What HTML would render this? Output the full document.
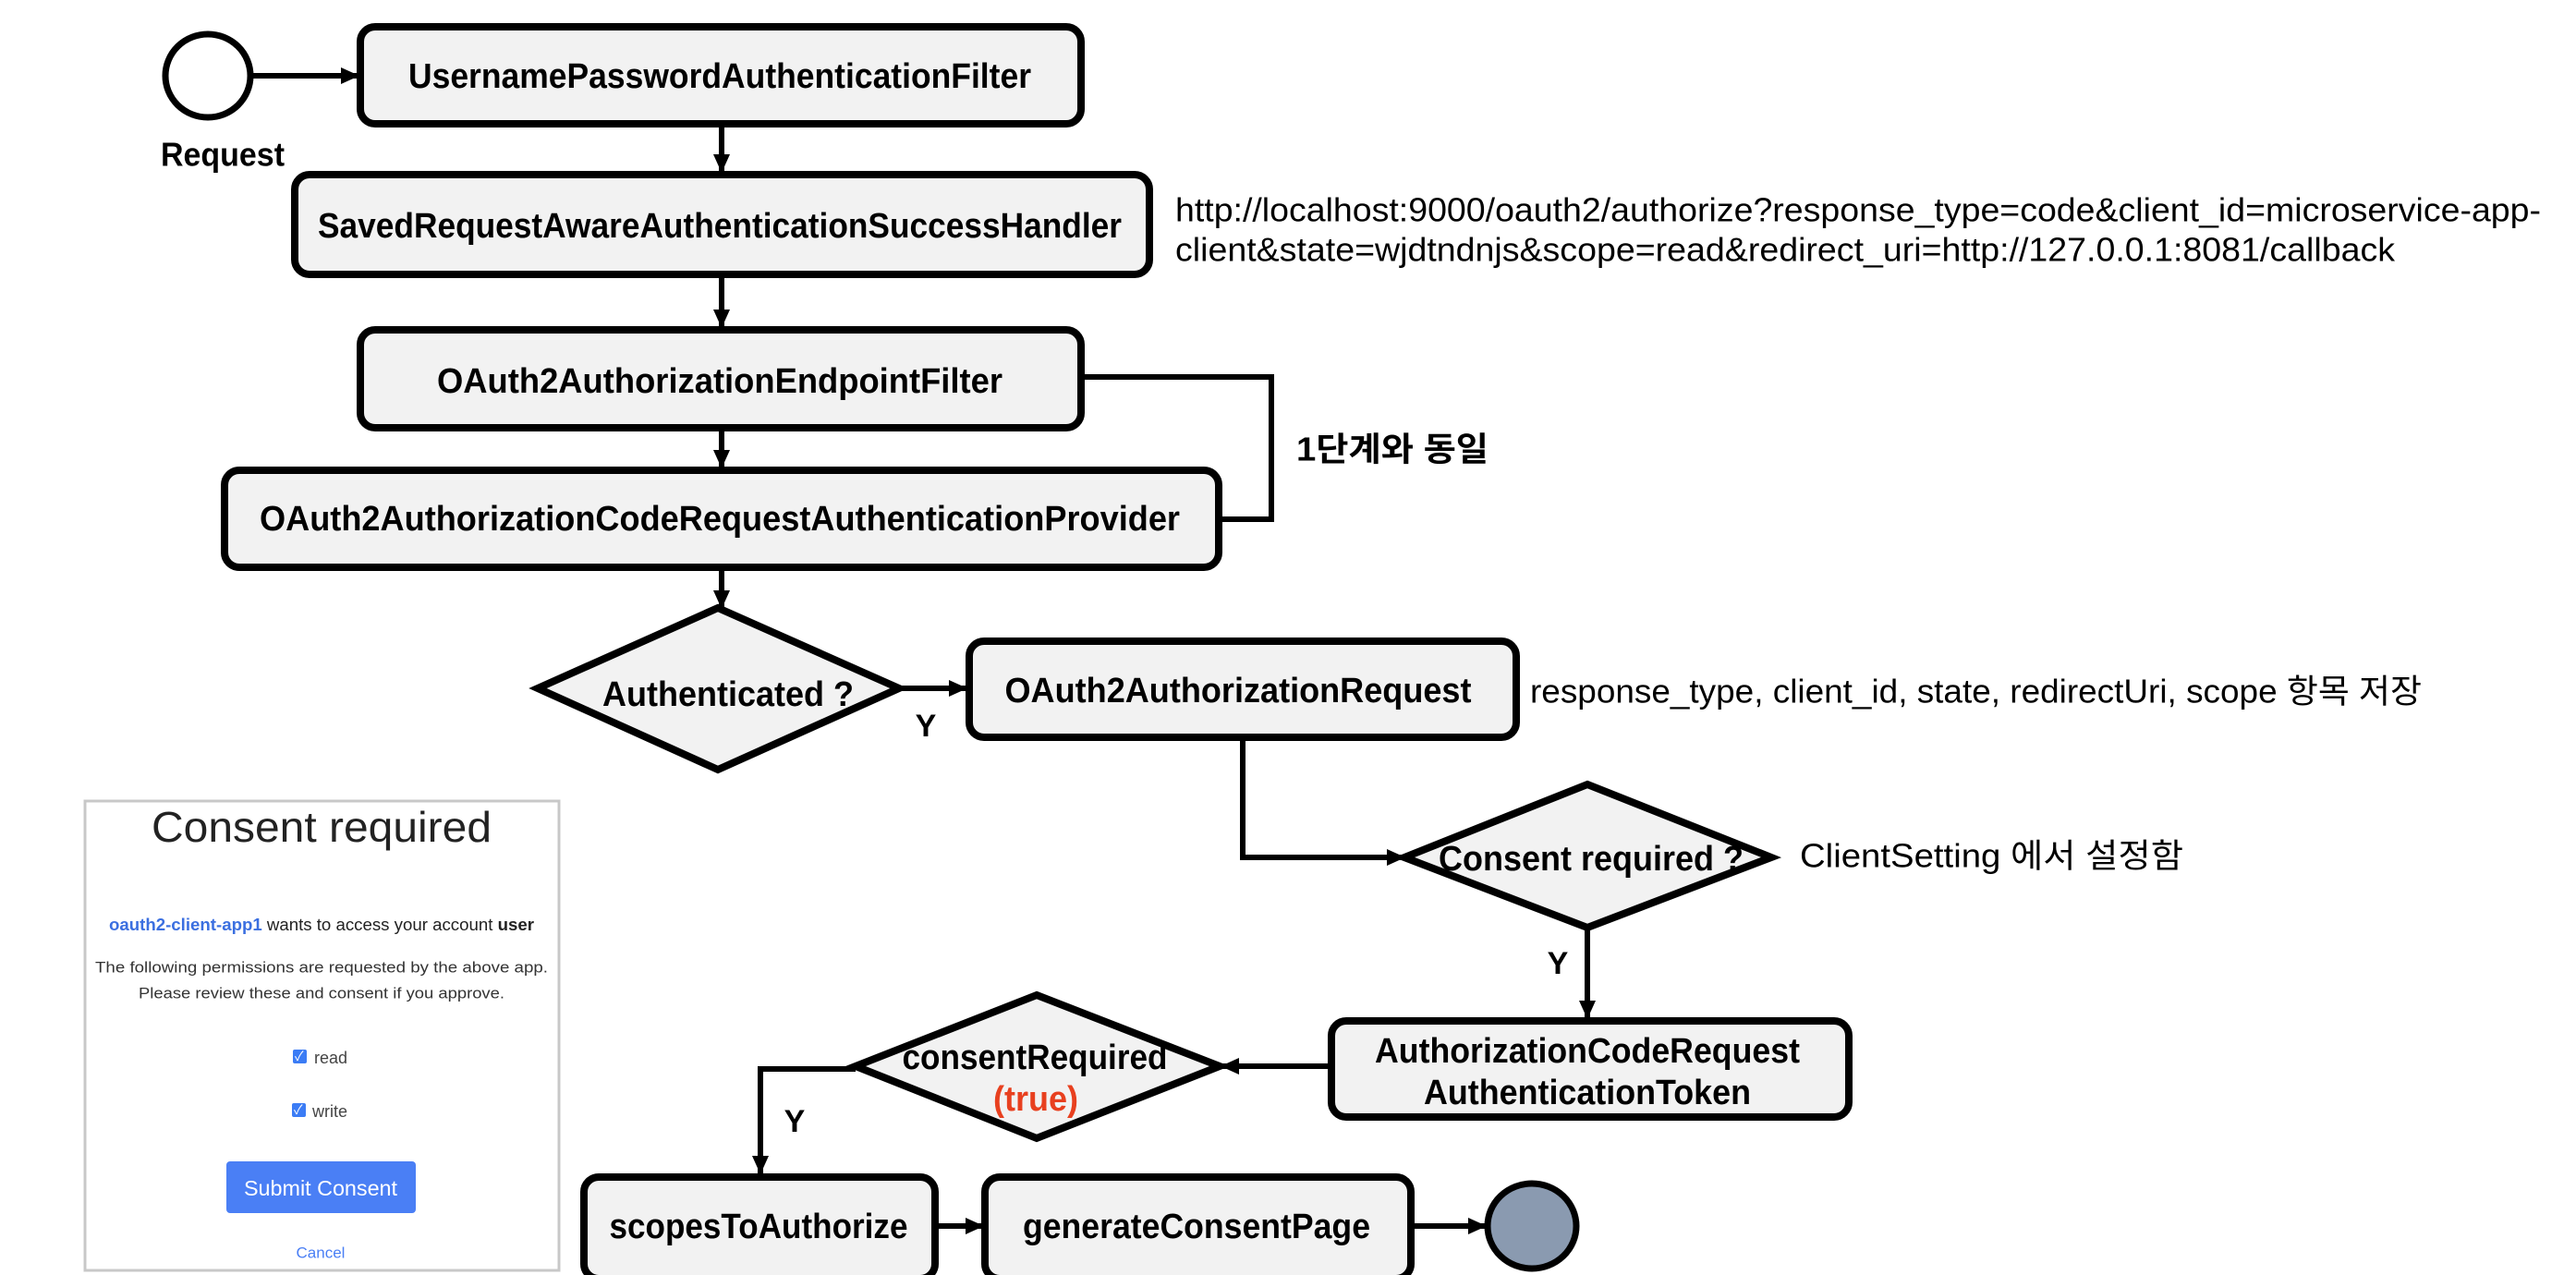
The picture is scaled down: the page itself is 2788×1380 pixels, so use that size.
<!DOCTYPE html>
<html><head><meta charset="utf-8"><style>
html,body{margin:0;padding:0;background:#fff;}
svg{display:block;}
text{font-family:"Liberation Sans","Noto Sans CJK KR",sans-serif;}
.b{font-weight:bold;font-size:38px;fill:#000;}
.n{font-size:36px;fill:#000;}
.box{fill:#f2f2f2;stroke:#000;stroke-width:8;}
.ln{stroke:#000;stroke-width:6;fill:none;}
</style></head><body>
<svg width="2788" height="1380" viewBox="0 0 2788 1380" xmlns="http://www.w3.org/2000/svg">
<defs>
<marker id="a" markerWidth="20" markerHeight="18" refX="19" refY="9" orient="auto" markerUnits="userSpaceOnUse"><path d="M0,0 L20,9 L0,18 z" fill="#000"/></marker>
</defs>
<ellipse cx="225" cy="82" rx="46" ry="45" fill="#fff" stroke="#000" stroke-width="7"/>
<line class="ln" x1="272" y1="82" x2="388" y2="82" marker-end="url(#a)"/>
<text class="b" x="241" y="167" text-anchor="middle" dominant-baseline="central" textLength="134" lengthAdjust="spacingAndGlyphs" style="font-size:36px">Request</text>

<rect class="box" x="390" y="29" width="780" height="105" rx="16"/>
<text class="b" x="779" y="83" text-anchor="middle" dominant-baseline="central" textLength="674" lengthAdjust="spacingAndGlyphs">UsernamePasswordAuthenticationFilter</text>
<line class="ln" x1="781" y1="134" x2="781" y2="186" marker-end="url(#a)"/>
<rect class="box" x="319" y="189" width="925" height="108" rx="16"/>
<text class="b" x="779" y="245" text-anchor="middle" dominant-baseline="central" textLength="870" lengthAdjust="spacingAndGlyphs">SavedRequestAwareAuthenticationSuccessHandler</text>
<line class="ln" x1="781" y1="297" x2="781" y2="354" marker-end="url(#a)"/>
<text class="n" x="1272" y="227" dominant-baseline="central" textLength="1478" lengthAdjust="spacingAndGlyphs">http://localhost:9000/oauth2/authorize?response_type=code&amp;client_id=microservice-app-</text>
<text class="n" x="1272" y="270" dominant-baseline="central" textLength="1320" lengthAdjust="spacingAndGlyphs">client&amp;state=wjdtndnjs&amp;scope=read&amp;redirect_uri=http://127.0.0.1:8081/callback</text>
<rect class="box" x="390" y="357" width="780" height="106" rx="16"/>
<text class="b" x="779" y="413" text-anchor="middle" dominant-baseline="central" textLength="612" lengthAdjust="spacingAndGlyphs">OAuth2AuthorizationEndpointFilter</text>
<line class="ln" x1="781" y1="463" x2="781" y2="506" marker-end="url(#a)"/>
<polyline class="ln" points="1172,408 1376,408 1376,562 1322,562"/>
<text class="b" x="1403" y="486" dominant-baseline="central" textLength="208" lengthAdjust="spacingAndGlyphs" style="font-size:36px">1단계와 동일</text>
<rect class="box" x="243" y="509" width="1076" height="105" rx="16"/>
<text class="b" x="779" y="562" text-anchor="middle" dominant-baseline="central" textLength="996" lengthAdjust="spacingAndGlyphs">OAuth2AuthorizationCodeRequestAuthenticationProvider</text>
<line class="ln" x1="781" y1="614" x2="781" y2="658" marker-end="url(#a)"/>

<polygon class="box" points="777,658 973,745 777,833 582,745"/>
<text class="b" x="788" y="752" text-anchor="middle" dominant-baseline="central" textLength="272" lengthAdjust="spacingAndGlyphs">Authenticated ?</text>
<line class="ln" x1="973" y1="745" x2="1046" y2="745" marker-end="url(#a)"/>
<text class="b" x="1002" y="786" text-anchor="middle" dominant-baseline="central" style="font-size:34px">Y</text>
<rect class="box" x="1049" y="694" width="592" height="104" rx="16"/>
<text class="b" x="1340" y="748" text-anchor="middle" dominant-baseline="central" textLength="505" lengthAdjust="spacingAndGlyphs">OAuth2AuthorizationRequest</text>
<text class="n" x="1656" y="748" dominant-baseline="central" textLength="965" lengthAdjust="spacingAndGlyphs">response_type, client_id, state, redirectUri, scope 항목 저장</text>
<polyline class="ln" points="1345,798 1345,928 1520,928" marker-end="url(#a)"/>
<polygon class="box" points="1718,849 1917,928 1718,1004 1520,928"/>
<text class="b" x="1722" y="930" text-anchor="middle" dominant-baseline="central" textLength="330" lengthAdjust="spacingAndGlyphs">Consent required ?</text>
<text class="n" x="1948" y="926" dominant-baseline="central" textLength="415" lengthAdjust="spacingAndGlyphs">ClientSetting 에서 설정함</text>
<line class="ln" x1="1718" y1="1004" x2="1718" y2="1102" marker-end="url(#a)"/>
<text class="b" x="1686" y="1043" text-anchor="middle" dominant-baseline="central" style="font-size:34px">Y</text>
<rect class="box" x="1441" y="1105" width="560" height="104" rx="16"/>
<text class="b" x="1718" y="1138" text-anchor="middle" dominant-baseline="central" textLength="460" lengthAdjust="spacingAndGlyphs">AuthorizationCodeRequest</text>
<text class="b" x="1718" y="1183" text-anchor="middle" dominant-baseline="central" textLength="354" lengthAdjust="spacingAndGlyphs">AuthenticationToken</text>
<line class="ln" x1="1441" y1="1154" x2="1322" y2="1154" marker-end="url(#a)"/>
<polygon class="box" points="1122,1077 1320,1154 1122,1232 926,1154"/>
<text class="b" x="1120" y="1145" text-anchor="middle" dominant-baseline="central" textLength="287" lengthAdjust="spacingAndGlyphs">consentRequired</text>
<text class="b" x="1121" y="1190" text-anchor="middle" dominant-baseline="central" textLength="92" lengthAdjust="spacingAndGlyphs" style="fill:#e8401f">(true)</text>
<polyline class="ln" points="926,1157 823,1157 823,1270" marker-end="url(#a)"/>
<text class="b" x="860" y="1214" text-anchor="middle" dominant-baseline="central" style="font-size:34px">Y</text>
<rect class="box" x="632" y="1274" width="380" height="110" rx="16"/>
<text class="b" x="821" y="1328" text-anchor="middle" dominant-baseline="central" textLength="323" lengthAdjust="spacingAndGlyphs">scopesToAuthorize</text>
<line class="ln" x1="1012" y1="1327" x2="1064" y2="1327" marker-end="url(#a)"/>
<rect class="box" x="1066" y="1274" width="461" height="110" rx="16"/>
<text class="b" x="1295" y="1328" text-anchor="middle" dominant-baseline="central" textLength="376" lengthAdjust="spacingAndGlyphs">generateConsentPage</text>
<line class="ln" x1="1527" y1="1327" x2="1608" y2="1327" marker-end="url(#a)"/>
<ellipse cx="1658" cy="1327" rx="48" ry="46" fill="#8a9ab0" stroke="#000" stroke-width="7"/>

<rect x="92" y="867" width="513" height="508" fill="#fff" stroke="#c8c8c8" stroke-width="3"/>
<text x="348" y="895" text-anchor="middle" dominant-baseline="central" textLength="368" lengthAdjust="spacingAndGlyphs" style="font-size:46px;fill:#222">Consent required</text>
<text x="118" y="1001" dominant-baseline="central" style="font-size:18px;fill:#222" textLength="460" lengthAdjust="spacingAndGlyphs"><tspan style="fill:#3b6fe0;font-weight:bold">oauth2-client-app1</tspan> wants to access your account <tspan style="font-weight:bold">user</tspan></text>
<text x="348" y="1047" text-anchor="middle" dominant-baseline="central" style="font-size:17px;fill:#333" textLength="490" lengthAdjust="spacingAndGlyphs">The following permissions are requested by the above app.</text>
<text x="348" y="1075" text-anchor="middle" dominant-baseline="central" style="font-size:17px;fill:#333" textLength="396" lengthAdjust="spacingAndGlyphs">Please review these and consent if you approve.</text>
<rect x="317" y="1136" width="15" height="15" rx="2" fill="#3b7cf5"/>
<text x="319" y="1148" style="font-size:14px;fill:#fff">✓</text>
<text x="340" y="1145" dominant-baseline="central" style="font-size:18px;fill:#444">read</text>
<rect x="316" y="1194" width="15" height="15" rx="2" fill="#3b7cf5"/>
<text x="318" y="1206" style="font-size:14px;fill:#fff">✓</text>
<text x="338" y="1203" dominant-baseline="central" style="font-size:18px;fill:#444">write</text>
<rect x="245" y="1257" width="205" height="56" rx="4" fill="#4a7ff5"/>
<text x="347" y="1286" text-anchor="middle" dominant-baseline="central" textLength="166" lengthAdjust="spacingAndGlyphs" style="font-size:23px;fill:#fff">Submit Consent</text>
<text x="347" y="1356" text-anchor="middle" dominant-baseline="central" style="font-size:17px;fill:#4a7ff5">Cancel</text>
</svg>
</body></html>
